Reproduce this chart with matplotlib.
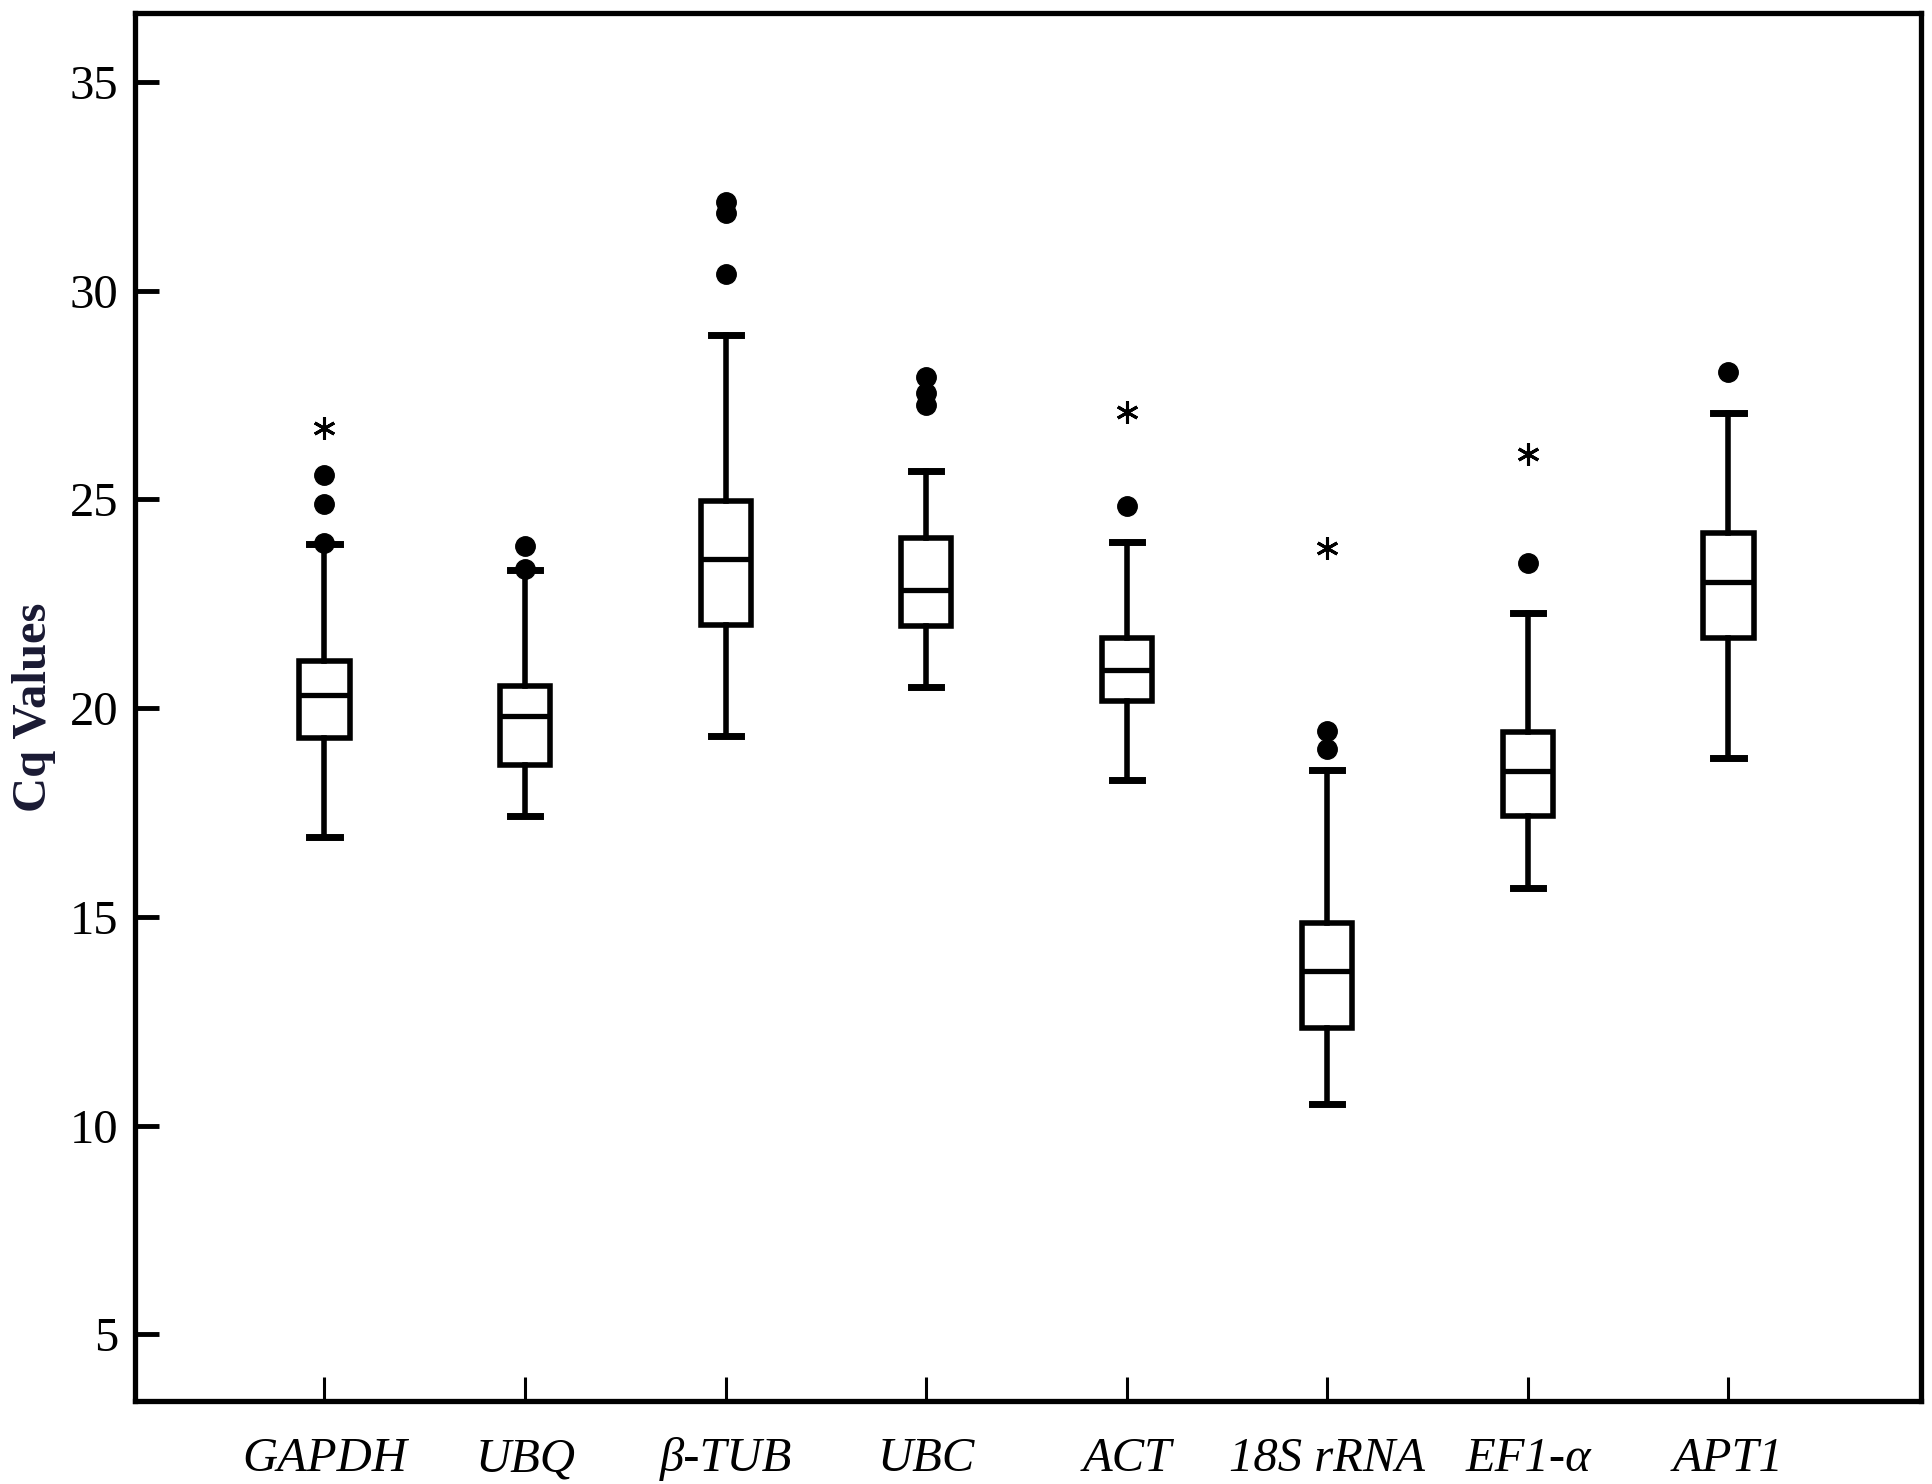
import matplotlib
matplotlib.use("Agg")
import matplotlib.pyplot as plt

genes = ["GAPDH", "UBQ", "β-TUB", "UBC", "ACT", "18S rRNA", "EF1-α", "APT1"]
whislo = [16.92, 17.42, 19.34, 20.50, 18.28, 10.51, 15.68, 18.81]
q1 = [19.28, 18.63, 22.00, 21.97, 20.17, 12.34, 17.42, 21.68]
med = [20.32, 19.82, 23.57, 22.83, 20.91, 13.70, 18.49, 23.01]
q3 = [21.12, 20.52, 24.96, 24.07, 21.68, 14.85, 19.43, 24.19]
whishi = [23.92, 23.30, 28.94, 25.69, 23.98, 18.52, 22.27, 27.08]
outliers = [[23.95, 24.88, 25.58], [23.33, 23.88], [30.39, 31.87, 32.12],
            [27.26, 27.56, 27.94], [24.84], [19.02, 19.46], [23.48], [28.06]]
extremes = [[26.70], [], [], [], [27.10], [23.83], [26.08], []]

plt.rcParams['font.family'] = ['Liberation Serif', 'DejaVu Serif']

fig = plt.figure(figsize=(19.33, 14.84), dpi=100)
ax = fig.add_axes([0.0698, 0.0559, 0.9240, 0.9353])

stats = []
for i, g in enumerate(genes):
    stats.append({"label": g, "whislo": whislo[i], "q1": q1[i], "med": med[i],
                  "q3": q3[i], "whishi": whishi[i], "fliers": outliers[i]})

pos = list(range(1, len(genes) + 1))
ax.bxp(stats, positions=pos, widths=0.25, patch_artist=True,
       boxprops=dict(facecolor="white", edgecolor="black", linewidth=4),
       medianprops=dict(color="black", linewidth=3.8),
       whiskerprops=dict(color="black", linewidth=4),
       capprops=dict(color="black", linewidth=5),
       capwidths=0.15,
       flierprops=dict(marker="o", markerfacecolor="black", markeredgecolor="black",
                       markersize=14))

for i, ext in enumerate(extremes):
    for v in ext:
        ax.plot(pos[i], v, marker=(6, 2, 0), color="black", markersize=16,
                markeredgewidth=2.2, linestyle="none")

ax.set_xlim(0.055, 8.96)
ax.set_ylim(3.4, 36.65)
ax.set_yticks([5, 10, 15, 20, 25, 30, 35])
ax.set_xticks(pos)
ax.set_xticklabels(genes, fontsize=35, style="italic")
ax.tick_params(axis="y", direction="in", length=17, width=3.5, labelsize=35, pad=12)
ax.tick_params(axis="x", direction="in", length=17, width=2.2, pad=26)
for s in ax.spines.values():
    s.set_linewidth(3.8)
ax.set_ylabel("Cq Values", fontsize=35, fontweight="bold", color="#1a1a33", labelpad=10)

fig.savefig("out.png", dpi=100)
